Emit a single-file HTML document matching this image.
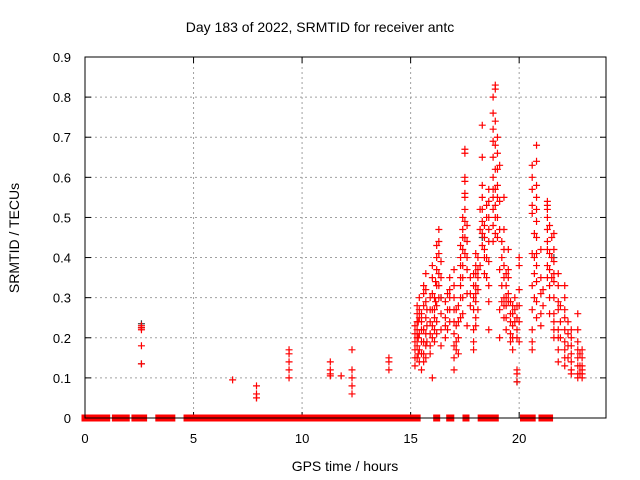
<!DOCTYPE html>
<html><head><meta charset="utf-8"><style>
body{margin:0;background:#fff}
svg{display:block;font-family:"Liberation Sans",sans-serif}
</style></head><body>
<svg id="chart" width="640" height="480">
<rect width="640" height="480" fill="#fff"/>
<text x="320" y="32" font-size="14" text-anchor="middle">Day 183 of 2022, SRMTID for receiver antc</text>
<text x="19" y="238" font-size="14" text-anchor="middle" transform="rotate(-90 19 238)">SRMTID / TECUs</text>
<text x="345" y="471" font-size="14" text-anchor="middle">GPS time / hours</text>
<g id="grid"></g>
<g id="ticks"></g>
<g id="marks"></g>
<rect x="85" y="57" width="521" height="361" fill="none" stroke="#000" stroke-width="1"/>
</svg>
<script>
const xTicks=[0,5,10,15,20];
const yTicks=[0,0.1,0.2,0.3,0.4,0.5,0.6,0.7,0.8,0.9];
const yTickLabels=["0","0.1","0.2","0.3","0.4","0.5","0.6","0.7","0.8","0.9"];
const zeroRanges=[[0,1.0],[1.4,1.9],[2.3,2.4],[2.6,2.7],[3.4,4.0],[4.7,5.2],[5.5,5.8],[5.9,6.1],[6.4,8.0],[8.1,8.4],[8.6,10.6],[10.7,12.3],[12.6,13.4],[13.7,14.2],[14.3,15.3],[16.2,16.2],[16.8,16.85],[17.55,17.55],[18.25,18.6],[18.9,18.9],[20.2,20.6],[21.05,21.4]];
const clusterTimes=[2.6,6.8,7.9,9.4,11.3,11.8,12.3,14.0,15.2,15.3,15.4,15.5,15.6,15.7,15.9,16.0,16.1,16.2,16.3,16.4,16.6,16.8,17.0,17.1,17.3,17.4,17.5,17.6,17.9,18.0,18.1,18.3,18.4,18.6,18.8,18.9,19.0,19.1,19.3,19.4,19.5,19.6,19.7,19.9,20.0,20.6,20.8,21.0,21.3,21.4,21.6,21.8,22.1,22.4,22.7,22.9,
15.35,15.75,16.15,16.7,17.2,17.75,18.2,18.5,19.2,19.8,20.7,21.1,21.5,21.9,22.25,22.8];
const clusterValues=[
[.23,.22,.225,.18,.135],[.095],[.08,.06,.05,.05],[.17,.16,.14,.12,.10],[.14,.12,.11,.105],[.105],[.17,.12,.10,.08,.06],[.15,.14,.12],
[.17,.15,.21,.19,.23,.13],[.26,.22,.18,.15,.20,.24,.28],[.25,.21,.17,.14,.27,.30],[.22,.19,.16,.24,.26,.12],[.33,.31,.28,.22,.19,.16,.14],[.36,.32,.29,.25,.21,.18,.15],[.30,.27,.24,.21,.18,.16],[.38,.35,.31,.27,.23,.20,.10],[.30,.27,.25,.22,.19],[.43,.40,.37,.33,.28,.24,.21],[.47,.44,.41,.36,.33,.30],[.39,.35,.30,.26,.22,.18],[.29,.25,.23,.20],[.35,.32,.30,.27,.24],[.37,.33,.30,.27,.24,.21,.18,.15,.12],[.27,.23,.19,.17],[.43,.40,.38,.35,.33,.30,.25],[.50,.47,.45,.42,.38,.35,.30,.26],[.67,.66,.60,.59,.56,.55,.52,.49,.45,.41],[.48,.44,.40,.37,.31,.23],[.36,.33,.30,.27,.22,.19,.17],[.41,.38,.36,.33,.31,.29,.25,.23],[.40,.37,.35,.32,.27],[.73,.65,.58,.55,.52,.49,.46,.43],[.48,.45,.42,.40,.36],[.57,.54,.50,.47,.44,.39,.33,.29,.22],[.80,.76,.72,.69,.65,.60,.57,.55,.52,.48,.44],[.83,.82,.74,.68,.62,.57,.53,.50,.46],[.70,.66,.62,.58,.55,.50,.45],[.63,.54,.47,.37,.27,.20],[.55,.47,.42,.38,.35,.30,.28,.25],[.36,.33,.30,.28,.25,.22],[.42,.37,.35,.31,.29],[.29,.26,.24,.21,.19],[.28,.26,.23,.20,.17],[.28,.25,.22,.20,.09,.11,.12],[.40,.38,.32,.28,.24,.19],[.63,.60,.57,.53,.51,.41,.33,.27,.22,.19,.17],[.68,.64,.58,.55,.52,.49,.45,.41,.38,.34,.29,.25],[.42,.35,.31,.26,.23],[.54,.53,.52,.50,.47,.44,.42,.38,.35],[.48,.41,.37,.33,.30,.26],[.46,.42,.39,.36,.34,.30,.26,.24,.22,.20],[.36,.33,.29,.27,.22,.20,.17,.14],[.33,.30,.27,.25,.22,.19,.17,.15,.13],[.22,.20,.18,.16,.14,.12,.11],[.26,.22,.19,.17,.15,.13,.11,.10],[.17,.15,.13,.12,.11,.10],
[.20,.16,.24],[.27,.23,.19],[.34,.29],[.31,.27,.22],[.28,.24,.20,.16],[.35,.31,.28],[.52,.47,.38],[.53,.50,.40,.35],[.44,.40,.33,.29],[.30,.27,.24],[.46,.40,.36,.30],[.32,.28],[.45,.40,.35],[.28,.24,.20],[.24,.21,.18,.15],[.16,.13,.11]];
const blackTimes=[2.6,2.6,2.6,19.9,18.3,16.4,21.6];
const blackValues=[.235,.225,.135,.09,.45,.30,.40];

const NS="http://www.w3.org/2000/svg";
const X0=85,X1=606,Y0=418,Y1=57,XMAX=24,YMAX=0.9;
const xs=t=>X0+t/XMAX*(X1-X0);
const ys=v=>Y0-v/YMAX*(Y0-Y1);
const grid=document.getElementById('grid'),ticks=document.getElementById('ticks'),marks=document.getElementById('marks');
function mk(tag,attrs,parent){const e=document.createElementNS(NS,tag);for(const k in attrs)e.setAttribute(k,attrs[k]);parent.appendChild(e);return e;}
xTicks.forEach(t=>{
  const x=xs(t);
  if(t>0){const g=mk('line',{x1:x,x2:x,y1:Y1,y2:Y0,stroke:'#a0a0a0','stroke-dasharray':'2,3'},grid);
  
  }
  mk('line',{x1:x,x2:x,y1:Y0,y2:Y0-6,stroke:'#000'},ticks);
  mk('line',{x1:x,x2:x,y1:Y1,y2:Y1+6,stroke:'#000'},ticks);
  const l=mk('text',{x:x,y:443,'font-size':13,'text-anchor':'middle'},ticks);l.textContent=t;
  
  
});
yTicks.forEach((v,i)=>{
  const y=ys(v);
  if(v>0){const g=mk('line',{x1:X0,x2:X1,y1:y,y2:y,stroke:'#a0a0a0','stroke-dasharray':'2,3'},grid);
  
  }
  mk('line',{x1:X0,x2:X0+6,y1:y,y2:y,stroke:'#000'},ticks);
  mk('line',{x1:X1,x2:X1-6,y1:y,y2:y,stroke:'#000'},ticks);
  const l=mk('text',{x:71,y:y+5,'font-size':13,'text-anchor':'end'},ticks);l.textContent=yTickLabels[i];
  
  
});
function cross(t,v,color,name){
  const x=xs(t),y=ys(v);
  const p=mk('path',{d:`M${x-3.5} ${y}H${x+3.5}M${x} ${y-3.5}V${y+3.5}`,stroke:color,'stroke-width':1.2,fill:'none'},marks);
  
  
}
zeroRanges.forEach(r=>{
  const x=xs(r[0])-3.5,w=Math.max(xs(r[1])-xs(r[0])+7,7);
  const b=mk('rect',{x:x,y:Y0-3.5,width:w,height:7,fill:'#ff0000'},marks);
  
  
});
blackTimes.forEach((t,i)=>cross(t,blackValues[i],'#404040','point-black'));
clusterTimes.forEach((t,i)=>clusterValues[i].forEach(v=>cross(t,v,'#ff0000','point')));
</script>
</body></html>
